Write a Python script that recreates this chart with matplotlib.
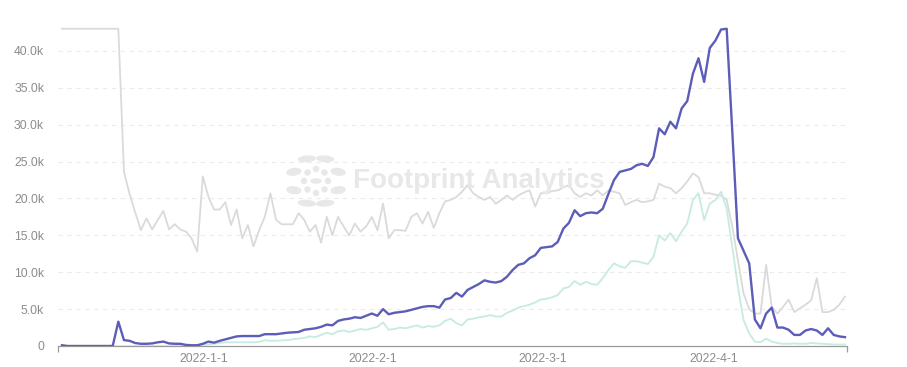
import numpy as np
from matplotlib import pyplot as plt
from matplotlib.patches import Ellipse, Circle
from matplotlib.ticker import FuncFormatter

# values in thousands, one point per day
main_series = [
    0.1, 0, 0, 0, 0, 0, 0, 0, 0, 0,
    3.3, 0.8, 0.7, 0.4, 0.3, 0.3, 0.35, 0.5, 0.6, 0.35,
    0.3, 0.3, 0.15, 0.1, 0.1, 0.3, 0.6, 0.45, 0.7, 0.9,
    1.1, 1.3, 1.35, 1.35, 1.35, 1.35, 1.6, 1.6, 1.6, 1.7,
    1.8, 1.85, 1.9, 2.2, 2.3, 2.4, 2.6, 2.9, 2.8, 3.4,
    3.6, 3.7, 3.9, 3.8, 4.1, 4.4, 4.1, 5.0, 4.3, 4.5,
    4.6, 4.7, 4.9, 5.1, 5.3, 5.4, 5.4, 5.2, 6.3, 6.5,
    7.2, 6.7, 7.6, 8.0, 8.4, 8.9, 8.7, 8.6, 8.8, 9.4,
    10.3, 11.0, 11.2, 11.9, 12.3, 13.3, 13.4, 13.5, 14.1, 15.9,
    16.7, 18.4, 17.6, 18.0, 18.1, 18.0, 18.6, 20.6, 22.5, 23.6,
    23.8, 24.0, 24.5, 24.7, 24.4, 25.6, 29.5, 28.7, 30.4, 29.5,
    32.2, 33.2, 36.9, 39.0, 35.8, 40.4, 41.4, 42.9, 43.0, 29.0,
    14.6, 12.9, 11.2, 3.6, 2.4, 4.4, 5.2, 2.5, 2.5, 2.2,
    1.5, 1.5, 2.1, 2.3, 2.1, 1.5, 2.4, 1.5, 1.3, 1.2,
]

gray_series = [
    43.0, 43.0, 43.0, 43.0, 43.0, 43.0, 43.0, 43.0, 43.0, 43.0,
    43.0, 23.6, 20.6, 18.1, 15.7, 17.3, 15.8, 17.1, 18.3, 15.8,
    16.5, 15.8, 15.5, 14.6, 12.8, 23.0, 20.2, 18.5, 18.5, 19.5,
    16.4, 18.5, 14.6, 16.4, 13.5, 15.7, 17.5, 20.7, 17.1, 16.5,
    16.5, 16.5, 18.0, 17.1, 15.5, 16.4, 14.0, 17.5, 15.0, 17.5,
    16.2, 15.0, 16.6, 15.5, 16.2, 17.5, 15.7, 19.3, 14.6, 15.7,
    15.7, 15.6, 17.5, 18.0, 16.6, 18.2, 16.0, 18.0, 19.6, 19.8,
    20.2, 20.9, 21.8, 20.7, 20.2, 19.8, 20.2, 19.3, 19.8, 20.4,
    19.8, 20.4, 20.8, 21.1, 18.9, 20.7, 20.7, 21.0, 21.1, 21.5,
    21.8, 20.7, 20.2, 20.7, 20.4, 21.1, 20.4, 21.1, 20.9, 20.7,
    19.1, 19.5, 19.8, 19.5, 19.6, 19.8, 22.0, 21.6, 21.4, 20.7,
    21.4, 22.3, 23.4, 22.9, 20.7, 20.7, 20.5, 20.4, 19.8, 16.2,
    11.6, 7.1, 5.0, 4.4, 4.4, 11.0, 5.3, 4.4, 5.3, 6.3,
    4.6, 5.1, 5.6, 6.2, 9.2, 4.6, 4.6, 4.9, 5.6, 6.7,
]

mint_series = [
    0, 0, 0, 0, 0, 0, 0, 0, 0, 0,
    0, 0, 0, 0, 0, 0, 0, 0, 0, 0,
    0, 0, 0, 0, 0, 0.1, 0.2, 0.3, 0.4, 0.5,
    0.5, 0.5, 0.5, 0.5, 0.5, 0.55, 0.8, 0.7, 0.7, 0.75,
    0.8, 0.9, 1.0, 1.1, 1.3, 1.2, 1.5, 1.8, 1.6, 2.0,
    2.1, 1.9, 2.1, 2.3, 2.2, 2.4, 2.6, 3.2, 2.2, 2.3,
    2.5, 2.4, 2.6, 2.8, 2.5, 2.7, 2.6, 2.8, 3.4, 3.7,
    3.1, 2.8, 3.6, 3.7, 3.9, 4.0, 4.2, 4.0, 4.0, 4.5,
    4.8, 5.2, 5.4, 5.6, 5.9, 6.3, 6.4, 6.6, 6.9, 7.8,
    8.0, 8.8, 8.3, 8.7, 8.4, 8.3, 9.2, 10.3, 11.2, 10.8,
    10.6, 11.5, 11.5, 11.3, 11.1, 12.1, 15.0, 14.3, 15.3, 14.2,
    15.5, 16.6, 19.8, 20.7, 17.1, 19.3, 19.8, 20.9, 18.6, 13.4,
    8.0, 3.5, 1.7, 0.6, 0.5, 1.0, 0.6, 0.4, 0.3, 0.3,
    0.35, 0.3, 0.3, 0.4, 0.35, 0.3, 0.25, 0.2, 0.2, 0.2,
]

date_labels = ["2022-1-1", "2022-2-1", "2022-3-1", "2022-4-1"]
date_label_pos = [25.1, 55.2, 85.4, 115.7]
y_ticks = [0, 5, 10, 15, 20, 25, 30, 35, 40]


def k_label(v, _pos):
    return "0" if v == 0 else f"{v:.1f}k"


def draw_watermark(fig):
    # logo: burst of dots left of the text
    w, h = fig.get_size_inches() * fig.dpi
    cx, cy = 316 / w, 1 - 181 / h
    col = "#e8e8e8"
    fig.patches.append(Circle((cx, cy), 5 / w, transform=fig.transFigure, color=col, zorder=0))
    for ang in np.linspace(0, 2 * np.pi, 8, endpoint=False):
        x = cx + 12 * np.cos(ang) / w
        y = cy + 12 * np.sin(ang) / h
        fig.patches.append(Ellipse((x, y), 5 / w, 5 / h, transform=fig.transFigure, color=col, zorder=0))
        a = ang + np.pi / 8
        x = cx + 24 * np.cos(a) / w
        y = cy + 24 * np.sin(a) / h
        fig.patches.append(Ellipse((x, y), 13 / w, 7 / h, angle=np.degrees(a),
                                   transform=fig.transFigure, color=col, zorder=0))
    fig.text(353 / w, cy, "Footprint Analytics", color=col, fontsize=20,
             fontweight="bold", ha="left", va="center", zorder=0)


def draw_chart():
    plt.rcParams["font.family"] = ["Liberation Sans", "DejaVu Sans"]
    fig = plt.figure(figsize=(9.07, 3.67), dpi=100)
    draw_watermark(fig)
    ax = fig.add_axes([58 / 907, 21 / 367, 789 / 907, 332 / 367])
    ax.patch.set_alpha(0)

    x = np.arange(len(main_series))
    ax.plot(x, gray_series, color="#dadada", lw=1.3, zorder=3)
    ax.plot(x, mint_series, color="#c6ebdf", lw=1.3, zorder=4)
    ax.plot(x, main_series, color="#5b5db8", lw=1.7, zorder=5)

    ax.set_xlim(-0.71, 139.36)
    ax.set_ylim(0, 45)
    ax.set_yticks(y_ticks)
    ax.yaxis.set_major_formatter(FuncFormatter(k_label))
    ax.set_xticks(date_label_pos)
    ax.set_xticklabels(date_labels)
    ax.set_xticks([-0.71, 139.36], minor=True)

    for v in y_ticks[1:]:
        ax.axhline(v, color="#ebebeb", lw=0.8, dashes=(4, 4), zorder=1)

    for s in ["top", "right", "left"]:
        ax.spines[s].set_visible(False)
    ax.spines["bottom"].set_color("#9a9a9a")
    ax.spines["bottom"].set_linewidth(0.9)
    ax.tick_params(axis="y", length=0, pad=10, labelsize=8.8, labelcolor="#8c8c8c")
    ax.tick_params(axis="x", which="major", length=0, pad=5, labelsize=8.8, labelcolor="#8c8c8c")
    ax.tick_params(axis="x", which="minor", length=4, color="#9a9a9a", width=0.9)

    fig.savefig("out.png", dpi=100)


if __name__ == "__main__":
    draw_chart()
